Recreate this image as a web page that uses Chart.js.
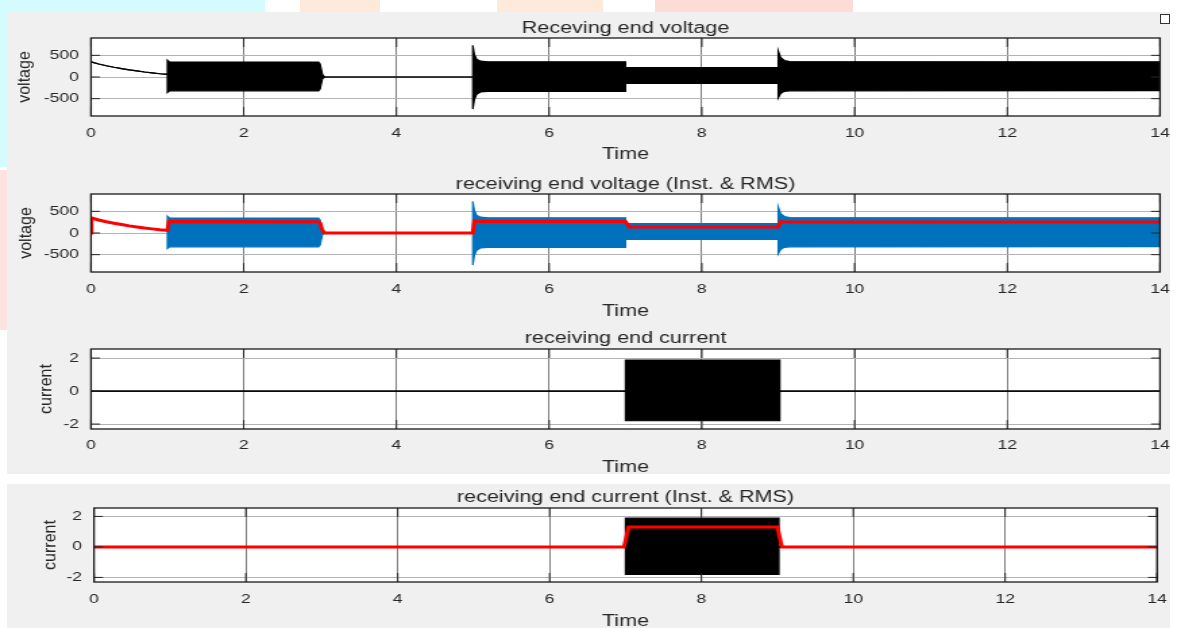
<!DOCTYPE html>
<html>
<head>
<meta charset="utf-8">
<title>Receiving end voltage and current</title>
<script src="https://cdn.jsdelivr.net/npm/chart.js@4.4.1/dist/chart.umd.min.js"></script>
<style>
  html, body { margin: 0; padding: 0; background: #fff; }
  #fig { position: relative; width: 1177px; height: 628px; overflow: hidden; }
  .deco { position: absolute; }
  canvas { position: absolute; left: 0; transform-origin: 0 0; }
</style>
</head>
<body>
<div id="fig">
  <div class="deco" style="left:0;top:0;width:265px;height:12px;background:#d4fbfd"></div>
  <div class="deco" style="left:300px;top:0;width:80px;height:12px;background:#fdeadb"></div>
  <div class="deco" style="left:497px;top:0;width:106px;height:12px;background:#fdeadb"></div>
  <div class="deco" style="left:655px;top:0;width:198px;height:12px;background:#fddcd6"></div>
  <div class="deco" style="left:0;top:12px;width:7px;height:155px;background:#d4fbfd"></div>
  <div class="deco" style="left:0;top:170px;width:7px;height:160px;background:#fde3e0"></div>
  <div class="deco" style="left:7px;top:12px;width:1163px;height:462px;background:#f0f0f0"></div>
  <div class="deco" style="left:7px;top:484px;width:1163px;height:144px;background:#f0f0f0"></div>
  <div class="deco" style="left:1160px;top:14px;width:8px;height:8px;border:1px solid #333;background:#fff"></div>
  <canvas id="c1"></canvas>
  <canvas id="c2"></canvas>
  <canvas id="c3"></canvas>
  <canvas id="c4"></canvas>
</div>
<script>
// tick labels
const xTicks = [0, 2, 4, 6, 8, 10, 12, 14];
const voltTicks = [-500, 0, 500];
const currTicks = [-2, 0, 2];

// receiving end voltage, instantaneous trace (upper / lower envelope of the 50 Hz wave)
const vTime  = [0, 0.1, 0.2, 0.3, 0.4, 0.5, 0.6, 0.7, 0.8, 0.9, 1.0, 1.0, 1.03, 2.98, 3.0, 3.03, 3.06, 5.0, 5.0, 5.02, 5.05, 5.1, 5.2, 7.0, 7.0, 9.0, 9.0, 9.03, 9.08, 9.15, 14];
const vUpper = [350, 300, 260, 225, 195, 165, 140, 115, 95, 75, 60, 390, 345, 345, 300, 60, 0, 0, 730, 520, 410, 365, 350, 350, 215, 215, 600, 450, 380, 355, 350];
const vLower = [350, 300, 260, 225, 195, 165, 140, 115, 95, 75, 60, -360, -320, -320, -280, -40, 0, 0, -740, -520, -400, -345, -330, -330, -150, -150, -480, -380, -330, -320, -315];

// receiving end voltage, RMS
const rmsTime = [0, 0.005, 0.1, 0.2, 0.3, 0.4, 0.5, 0.6, 0.7, 0.8, 0.9, 1.0, 1.02, 2.97, 3.0, 3.03, 3.06, 5.0, 5.02, 5.1, 7.0, 7.05, 9.0, 9.03, 9.1, 14];
const rmsVolt = [0, 350, 300, 260, 225, 195, 165, 140, 115, 95, 75, 60, 265, 262, 230, 60, 0, 0, 285, 268, 265, 140, 140, 265, 255, 255];

// receiving end current, instantaneous envelope
const iTime  = [0, 7.0, 7.0, 9.02, 9.02, 14];
const iUpper = [0, 0, 1.88, 1.88, 0, 0];
const iLower = [0, 0, -1.8, -1.8, 0, 0];

// receiving end current, RMS
const irmsTime = [0, 6.98, 7.04, 9.0, 9.06, 14];
const irmsCurr = [0, 0, 1.3, 1.3, 0, 0];

const FONT = '"Liberation Sans", Arial, Helvetica, sans-serif';
const TXT = '#262626';
const CW = 872;            // canvas width, stretched horizontally to the page width
const SX = 1177 / CW;

const pts = (xs, ys) => xs.map((x, i) => ({ x: x, y: ys[i] }));

function band(xs, up, lo, color, order) {
    return [
        { data: pts(xs, up), borderColor: color, backgroundColor: color, borderWidth: 1.2, fill: '+1', order: order },
        { data: pts(xs, lo), borderColor: color, backgroundColor: color, borderWidth: 1.2, fill: false, order: order + 1 }
    ];
}

// draws the MATLAB style box, inner ticks, subplot title and y label
const matlabAxes = {
    id: 'matlabAxes',
    beforeDraw(chart) {
        const { ctx, chartArea: a } = chart;
        ctx.save();
        ctx.fillStyle = '#ffffff';
        ctx.fillRect(a.left, a.top, a.width, a.height);
        ctx.restore();
    },
    afterDraw(chart, args, opts) {
        const { ctx, chartArea: a, scales } = chart;
        ctx.save();
        ctx.strokeStyle = TXT;
        ctx.lineWidth = 1;
        ctx.beginPath();
        scales.x.ticks.forEach(t => {
            const px = scales.x.getPixelForValue(t.value);
            ctx.moveTo(px, a.bottom); ctx.lineTo(px, a.bottom - 9);
            ctx.moveTo(px, a.top); ctx.lineTo(px, a.top + 9);
        });
        scales.y.ticks.forEach(t => {
            const py = scales.y.getPixelForValue(t.value);
            ctx.moveTo(a.left, py); ctx.lineTo(a.left + 9 / SX, py);
            ctx.moveTo(a.right, py); ctx.lineTo(a.right - 9 / SX, py);
        });
        ctx.stroke();

        ctx.lineWidth = 1.3;
        ctx.strokeStyle = '#1a1a1a';
        ctx.strokeRect(a.left, a.top, a.width, a.height);

        ctx.fillStyle = TXT;
        ctx.textAlign = 'center';
        ctx.textBaseline = 'middle';
        ctx.font = '16px ' + FONT;
        ctx.fillText(opts.title, (a.left + a.right) / 2, opts.titleY);

        ctx.translate(opts.labelX / SX, (a.top + a.bottom) / 2);
        ctx.scale(1 / SX, 1);
        ctx.rotate(-Math.PI / 2);
        ctx.fillText(opts.ylabel, 0, 0);
        ctx.restore();
    }
};

const panels = [
    {
        id: 'c1', canvasTop: 12, canvasBottom: 165,
        left: 91, right: 1160, top: 38, bottom: 116,
        titleY: 28.5, tickY: 133, timeY: 155, labelX: 25.5,
        title: 'Receving end voltage', ylabel: 'voltage',
        yMin: -900, yMax: 900, yTicks: voltTicks,
        datasets: band(vTime, vUpper, vLower, '#000000', 1)
    },
    {
        id: 'c2', canvasTop: 165, canvasBottom: 320,
        left: 91, right: 1160, top: 194, bottom: 272,
        titleY: 184.5, tickY: 289, timeY: 312, labelX: 26,
        title: 'receiving end voltage (Inst. & RMS)', ylabel: 'voltage',
        yMin: -900, yMax: 900, yTicks: voltTicks,
        datasets: band(vTime, vUpper, vLower, '#0072bd', 1).concat([
            { data: pts(rmsTime, rmsVolt), borderColor: '#ff0000', borderWidth: 3, fill: false, order: 0 }
        ])
    },
    {
        id: 'c3', canvasTop: 320, canvasBottom: 474,
        left: 91, right: 1160, top: 349, bottom: 429,
        titleY: 338.5, tickY: 445.5, timeY: 468, labelX: 47,
        title: 'receiving end current', ylabel: 'current',
        yMin: -2.3, yMax: 2.55, yTicks: currTicks,
        datasets: band(iTime, iUpper, iLower, '#000000', 1)
    },
    {
        id: 'c4', canvasTop: 484, canvasBottom: 628,
        left: 94, right: 1157, top: 508, bottom: 582,
        titleY: 497.5, tickY: 599, timeY: 621.5, labelX: 51,
        title: 'receiving end current (Inst. & RMS)', ylabel: 'current',
        yMin: -2.3, yMax: 2.55, yTicks: currTicks,
        datasets: band(iTime, iUpper, iLower, '#000000', 1).concat([
            { data: pts(irmsTime, irmsCurr), borderColor: '#ff0000', borderWidth: 3, fill: false, order: 0 }
        ])
    }
];

function buildChart(p) {
    const canvas = document.getElementById(p.id);
    const ch = p.canvasBottom - p.canvasTop;
    const areaBottom = p.bottom - p.canvasTop;
    canvas.width = CW;
    canvas.height = ch;
    canvas.style.top = p.canvasTop + 'px';
    canvas.style.width = CW + 'px';
    canvas.style.height = ch + 'px';
    canvas.style.transform = 'scaleX(' + SX + ')';

    return new Chart(canvas, {
        type: 'line',
        data: { datasets: p.datasets },
        options: {
            responsive: false,
            animation: false,
            devicePixelRatio: 1,
            elements: { point: { radius: 0 }, line: { tension: 0 } },
            layout: {
                padding: { top: p.top - p.canvasTop, left: 0, right: CW - p.right / SX, bottom: 0 }
            },
            plugins: {
                legend: { display: false },
                tooltip: { enabled: false },
                title: { display: false },
                matlabAxes: { title: p.title, ylabel: p.ylabel, titleY: p.titleY - p.canvasTop, labelX: p.labelX }
            },
            scales: {
                x: {
                    type: 'linear',
                    min: 0,
                    max: 14,
                    afterBuildTicks: axis => { axis.ticks = xTicks.map(v => ({ value: v })); },
                    afterFit: scale => {
                        scale.height = ch - areaBottom;
                        // keep the plot box where the layout padding puts it
                        scale.paddingLeft = 0;
                        scale.paddingRight = 0;
                    },
                    ticks: {
                        color: TXT,
                        font: { family: FONT, size: 13 },
                        padding: p.tickY - p.bottom - 7.8,
                        maxRotation: 0,
                        autoSkip: false
                    },
                    grid: { color: '#7d7d7d', lineWidth: 1, drawTicks: false },
                    border: { display: false },
                    title: {
                        display: true,
                        text: 'Time',
                        color: TXT,
                        font: { family: FONT, size: 16 },
                        padding: { top: 0, bottom: p.canvasBottom - p.timeY - 9.6 }
                    }
                },
                y: {
                    min: p.yMin,
                    max: p.yMax,
                    afterBuildTicks: axis => { axis.ticks = p.yTicks.map(v => ({ value: v })); },
                    afterFit: scale => {
                        scale.width = p.left / SX;
                        scale.paddingTop = 0;
                        scale.paddingBottom = 0;
                    },
                    ticks: {
                        color: TXT,
                        font: { family: FONT, size: 13 },
                        padding: 12 / SX
                    },
                    grid: { color: '#b3b3b3', lineWidth: 1, drawTicks: false },
                    border: { display: false }
                }
            }
        },
        plugins: [matlabAxes]
    });
}

panels.forEach(buildChart);
</script>
</body>
</html>
